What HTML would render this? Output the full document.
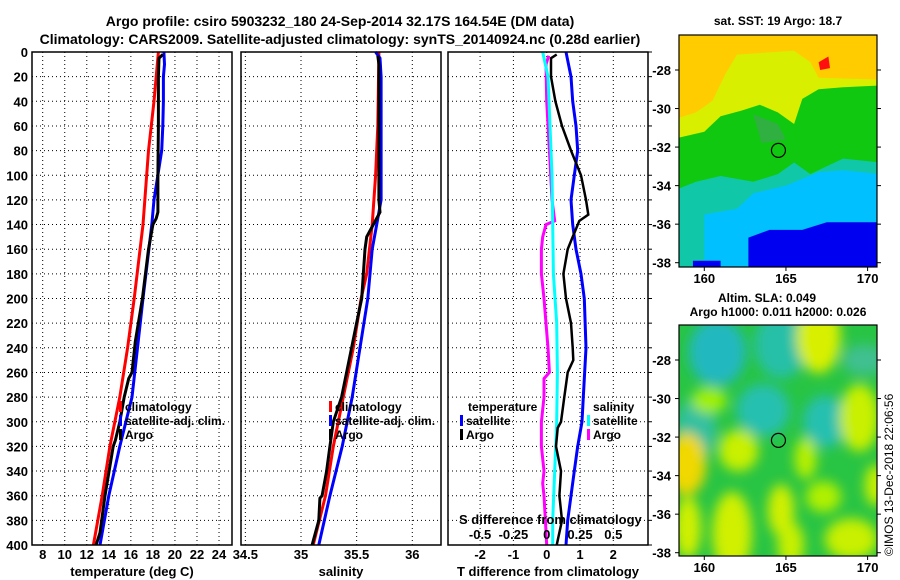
<!DOCTYPE html>
<html><head><meta charset="utf-8">
<style>
html,body{margin:0;padding:0;background:#fff;}
svg{display:block;font-family:"Liberation Sans",sans-serif;font-weight:bold;}
</style></head>
<body>
<svg id="chart" width="900" height="580" viewBox="0 0 900 580" xmlns="http://www.w3.org/2000/svg">
<defs>
<filter id="blur" x="-30%" y="-30%" width="160%" height="160%"><feGaussianBlur stdDeviation="6"/></filter>
<clipPath id="clipm1"><rect x="679" y="35" width="198" height="232"/></clipPath>
<clipPath id="clipm2"><rect x="679" y="325" width="198" height="231"/></clipPath>
</defs>
<text x="340" y="26" font-size="14" text-anchor="middle">Argo profile: csiro 5903232_180 24-Sep-2014 32.17S 164.54E (DM data)</text>
<text x="340" y="44" font-size="14" text-anchor="middle">Climatology: CARS2009. Satellite-adjusted climatology: synTS_20140924.nc (0.28d earlier)</text>
<g id="g"></g>
<text transform="translate(893,556) rotate(-90)" font-size="12" font-weight="normal">©IMOS 13-Dec-2018 22:06:56</text>
</svg>
<script>
// ---- depth profile data ----
const tClimDepth=[0,40,80,140,200,240,280,320,360,400];
const tClimVal=[18.5,18.1,17.6,17.1,16.3,15.7,15.0,14.1,13.4,12.6];
const tSatDepth=[0,10,20,40,60,80,120,140,200,240,280,320,360,400];
const tSatVal=[19.0,19.05,18.95,18.95,18.9,18.8,18.1,17.9,17.1,16.6,16.1,15.0,14.0,13.2];
const tArgoDepth=[2,5,20,60,100,130,135,140,160,200,235,260,265,280,300,315,320,360,390,400];
const tArgoVal=[18.9,18.55,18.5,18.5,18.45,18.45,18.3,18.0,17.6,17.05,16.4,16.1,15.8,15.4,15.0,14.6,14.4,13.65,13.2,12.85];
const sClimDepth=[0,60,100,140,180,200,240,280,320,360,400];
const sClimVal=[35.7,35.69,35.67,35.64,35.59,35.54,35.47,35.38,35.29,35.22,35.11];
const sSatDepth=[0,5,20,120,140,160,200,240,280,320,360,400];
const sSatVal=[35.67,35.71,35.72,35.72,35.68,35.64,35.6,35.53,35.46,35.37,35.26,35.16];
const sArgoDepth=[3,10,120,130,140,150,160,200,220,240,260,280,300,320,340,360,362,380,400];
const sArgoVal=[35.69,35.70,35.70,35.71,35.65,35.59,35.575,35.545,35.5,35.455,35.41,35.365,35.29,35.26,35.23,35.19,35.17,35.16,35.10];
const dTSatDepth=[0,20,40,60,80,100,120,140,160,180,200,240,280,300,320,340,360,380,400];
const dTSatVal=[0.58,0.73,0.78,0.88,0.93,0.83,0.73,0.78,0.88,1.03,1.13,1.18,1.1,1.06,0.93,0.83,0.73,0.63,0.58];
const dTArgoDepth=[2,5,20,40,60,80,90,100,120,132,137,150,160,180,200,220,240,250,260,280,300,305,320,340,360,380,400];
const dTArgoVal=[0.3,0.13,0.13,0.26,0.46,0.73,0.88,1.03,1.18,1.25,0.98,0.78,0.63,0.5,0.58,0.73,0.78,0.8,0.63,0.53,0.43,0.33,0.28,0.43,0.38,0.46,0.3];
const dSSatDepth=[0,20,60,100,140,180,220,260,300,340,380,400];
const dSSatVal=[-0.03,0.01,0.025,0.04,0.045,0.05,0.075,0.08,0.075,0.06,0.045,0.045];
const dSArgoDepth=[3,10,40,80,120,137,140,150,160,180,200,240,260,265,280,300,320,340,350,360,380,400];
const dSArgoVal=[0.015,-0.005,0.0,0.02,0.04,0.06,-0.005,-0.03,-0.04,-0.04,-0.02,0.01,0.02,-0.02,-0.02,-0.04,-0.04,-0.02,-0.03,-0.02,-0.01,0.0];
const depthTicks=[0,20,40,60,80,100,120,140,160,180,200,220,240,260,280,300,320,340,360,380,400];
const tTicks=[8,10,12,14,16,18,20,22,24];
const sTicks=[34.5,35,35.5,36];
const dTTicks=[-2,-1,0,1,2];
const dSTicks=[-0.5,-0.25,0,0.25,0.5];
const dSTickLabels=["-0.5","-0.25","0","0.25","0.5"];
const latTicks=[-28,-30,-32,-34,-36,-38];
const lonTicks=[160,165,170];
const argoLon=164.54, argoLat=-32.17;

const NS="http://www.w3.org/2000/svg";
const G=document.getElementById('g');
function el(tag,attrs,parent){const e=document.createElementNS(NS,tag);for(const k in attrs)e.setAttribute(k,attrs[k]);(parent||G).appendChild(e);return e;}
const TOP=52,BOT=545;
const yD=d=>TOP+d*(BOT-TOP)/400;
const xT=t=>42.7+(t-8)*11.02;
const xS=s=>301+(s-35)*111.3;
const xdT=v=>546.7+v*33.3;
const xdS=v=>546.7+v*133.2;
const xLon=l=>704.3+(l-160)*16.33;
const yLat1=l=>70+(-28-l)*19.27;
const yLat2=l=>360+(-28-l)*19.27;

const panels=[[32,232],[241,441],[448,648]];
function grid(x0,x1,xs){
  depthTicks.forEach(d=>{if(d>0&&d<400){const l=el('line',{x1:x0,x2:x1,y1:yD(d),y2:yD(d),stroke:'#000','stroke-width':1,'stroke-dasharray':'1,3'});
  
  }});
  xs.forEach(x=>{const l=el('line',{x1:x,x2:x,y1:TOP,y2:BOT,stroke:'#000','stroke-width':1,'stroke-dasharray':'1,3'});
  
  });
}
grid(32,232,tTicks.map(xT));
grid(241,441,sTicks.map(xS));
grid(448,648,dTTicks.map(xdT));

function line(ds,vs,fx,color,name,w){
  const pts=ds.map((d,i)=>fx(vs[i]).toFixed(1)+','+yD(d).toFixed(1)).join(' ');
  const p=el('polyline',{points:pts,fill:'none',stroke:color,'stroke-width':w||3,'stroke-linejoin':'miter'});
  
  
}
line(tClimDepth,tClimVal,xT,'#f00','temp-climatology-line');
line(tSatDepth,tSatVal,xT,'#00f','temp-satellite-line');
line(tArgoDepth,tArgoVal,xT,'#000','temp-argo-line');
line(sClimDepth,sClimVal,xS,'#f00','sal-climatology-line');
line(sSatDepth,sSatVal,xS,'#00f','sal-satellite-line');
line(sArgoDepth,sArgoVal,xS,'#000','sal-argo-line');
line(dSArgoDepth,dSArgoVal,xdS,'#f0f','sdiff-argo-line');
line(dSSatDepth,dSSatVal,xdS,'#0ff','sdiff-satellite-line');
line(dTSatDepth,dTSatVal,xdT,'#00f','tdiff-satellite-line');
line(dTArgoDepth,dTArgoVal,xdT,'#000','tdiff-argo-line',2.5);

panels.forEach((p,i)=>{const r=el('rect',{x:p[0],y:TOP,width:p[1]-p[0],height:BOT-TOP,fill:'none',stroke:'#000','stroke-width':1.5});

});
depthTicks.forEach(d=>{const t=el('text',{x:28,y:yD(d)+5,'font-size':13,'text-anchor':'end'});t.textContent=d;


const k=el('line',{x1:648,x2:652,y1:yD(d),y2:yD(d),stroke:'#000','stroke-width':1});

});
function xlabels(ticks,fx,labels,y,name){ticks.forEach((v,i)=>{const t=el('text',{x:fx(v),y:y,'font-size':13,'text-anchor':'middle'});t.textContent=labels?labels[i]:v;

});}
xlabels(tTicks,xT,null,559,'temp-tick-label');
xlabels(sTicks,xS,null,559,'sal-tick-label');
xlabels(dTTicks,xdT,null,559,'tdiff-tick-label');
xlabels(dSTicks,xdS,dSTickLabels,539,'sdiff-tick-label');
function txt(x,y,s,name,size,anchor){const t=el('text',{x:x,y:y,'font-size':size||13,'text-anchor':anchor||'start'});t.textContent=s;

return t;}
txt(132,576,'temperature (deg C)','x-axis-title-temperature',13,'middle');
txt(341,576,'salinity','x-axis-title-salinity',13,'middle');
txt(548,576,'T difference from climatology','x-axis-title-tdiff',13,'middle');
txt(459,524,'S difference from climatology','sdiff-axis-title',13,'start');

function leg(x,y,color,label,name){const m=el('rect',{x:x,y:y-10,width:3,height:11,fill:color});


if(label)txt(x+6,y,label,name,12);}
leg(119,411,'#f00','climatology','legend-temp-climatology');
leg(119,425,'#00f','satellite-adj. clim.','legend-temp-satellite');
leg(119,439,'#000','Argo','legend-temp-argo');
leg(329,411,'#f00','climatology','legend-sal-climatology');
leg(329,425,'#00f','satellite-adj. clim.','legend-sal-satellite');
leg(329,439,'#000','Argo','legend-sal-argo');
txt(468,411,'temperature','legend-title-temperature',12);
leg(460,425,'#00f','satellite','legend-tdiff-satellite');
leg(460,439,'#000','Argo','legend-tdiff-argo');
txt(593,411,'salinity','legend-title-salinity',12);
leg(587,425,'#0ff','satellite','legend-sdiff-satellite');
leg(587,439,'#f0f','Argo','legend-sdiff-argo');

// ---- maps ----
function poly(pts,color,yl,parent,name){const p=el('polygon',{points:pts.map(q=>xLon(q[0]).toFixed(1)+','+yl(q[1]).toFixed(1)).join(' '),fill:color},parent);

}
const m1=el('g',{'clip-path':'url(#clipm1)'});


el('rect',{x:679,y:35,width:198,height:232,fill:'#ffcc00'},m1);
poly([[158,-30.6],[159.5,-30.2],[160.5,-29.6],[161.3,-28.2],[162,-27.2],[165.5,-27.0],[166.5,-27.6],[167,-28.4],[170.8,-28.5],[170.8,-38.5],[158,-38.5]],'#d8f000',yLat1,m1,'sst-yellow');
poly([[158,-31.6],[160,-31.2],[161,-30.4],[162.3,-30.1],[163.4,-29.8],[164.5,-30.2],[165.5,-30.8],[166,-29.5],[167,-29],[168.5,-28.9],[170.8,-28.8],[170.8,-38.5],[158,-38.5]],'#10c810',yLat1,m1,'sst-green');
poly([[163,-30.3],[164.5,-30.8],[165,-31.6],[163.5,-31.8]],'#30b040',yLat1,m1,'sst-darkgreen');
poly([[158,-34.3],[159.5,-33.8],[161,-33.5],[163,-33.8],[164.5,-33.4],[165.5,-32.8],[166.5,-33.4],[167.5,-33],[168.5,-32.6],[170.8,-32.8],[170.8,-38.5],[158,-38.5]],'#10c8a8',yLat1,m1,'sst-teal');
poly([[160,-35.5],[162,-35.2],[163,-34.4],[165,-34],[167,-33.3],[168.5,-33.2],[170.8,-33.4],[170.8,-38.5],[160,-38.5]],'#00c0ff',yLat1,m1,'sst-cyan');
poly([[162.7,-38.5],[162.7,-36.7],[164,-36.3],[166,-36.3],[167.5,-35.9],[169,-35.9],[170.8,-35.9],[170.8,-38.5]],'#0000f0',yLat1,m1,'sst-blue');
poly([[159.3,-38.5],[159.3,-37.9],[161,-37.9],[161,-38.5]],'#0000f0',yLat1,m1,'sst-blue-2');
poly([[167,-27.6],[167.6,-27.3],[167.7,-27.9],[167.1,-28]],'#ff1010',yLat1,m1,'sst-red-patch');
const m2=el('g',{'clip-path':'url(#clipm2)'});


el('rect',{x:679,y:325,width:198,height:231,fill:'#28c444'},m2);
const blobs=el('g',{filter:'url(#blur)'},m2);
[[160.8,-27.6,1.3,1.3,'#20b8c0'],[164.7,-27.2,1.2,1.3,'#28c0a8'],[163.6,-30.6,1.2,1,'#28c0b0'],[167.4,-31.2,1,1,'#28c0b0'],[159.5,-31.6,0.9,1.2,'#30c0a0'],[169.8,-28,1,0.6,'#40c090'],
 [167,-26.8,1,1.4,'#d8f000'],[162.1,-32.7,0.9,0.8,'#c8f000'],[166.2,-33.1,0.5,0.8,'#b8f000'],[158.9,-33.4,0.9,1.2,'#f0d800'],[169.5,-31,0.9,1.3,'#c8f000'],[170.5,-34.5,0.5,0.8,'#c8f000'],
 [161.7,-37,0.9,1.6,'#d0f000'],[164.7,-35.8,0.6,1,'#d0f000'],[165.3,-37.6,0.6,0.9,'#c8f000'],[169,-37.3,1.2,0.8,'#c8f000'],[159,-36.7,0.6,1.2,'#d0f000'],[167.3,-35.1,0.8,0.6,'#b0f000'],[160.3,-30.1,0.8,0.5,'#a0f000']
].forEach(b=>{const e=el('ellipse',{cx:xLon(b[0]),cy:yLat2(b[1]),rx:b[2]*16.33*1.35,ry:b[3]*19.27*1.35,fill:b[4]},blobs);

});
[[yLat1,35,'sst'],[yLat2,325,'sla']].forEach(([yl,top,nm])=>{
  const c=el('circle',{cx:xLon(argoLon),cy:yl(argoLat),r:7,fill:'none',stroke:'#000','stroke-width':1.2});
  
  
  const r=el('rect',{x:679,y:top,width:198,height:top===35?232:231,fill:'none',stroke:'#000','stroke-width':1.2});
  
  
  latTicks.forEach(l=>{txt(671,yl(l)+5,String(l),nm+'-lat-label',13,'end');
    const a=el('line',{x1:675,x2:679,y1:yl(l),y2:yl(l),stroke:'#000'});
    
    
    const b=el('line',{x1:877,x2:881,y1:yl(l),y2:yl(l),stroke:'#000'});
    
    });
  const bot=top===35?267:556;
  lonTicks.forEach(l=>{txt(xLon(l),bot+16,String(l),nm+'-lon-label',13,'middle');
    const a=el('line',{x1:xLon(l),x2:xLon(l),y1:bot,y2:bot+4,stroke:'#000'});
    
    });
});
txt(778,25,'sat. SST: 19 Argo: 18.7','sst-map-title',12,'middle');
txt(767,302,'Altim. SLA: 0.049','sla-map-title',12,'middle');
txt(778,316,'Argo h1000: 0.011 h2000: 0.026','sla-map-subtitle',12,'middle');
</script>
</body></html>
